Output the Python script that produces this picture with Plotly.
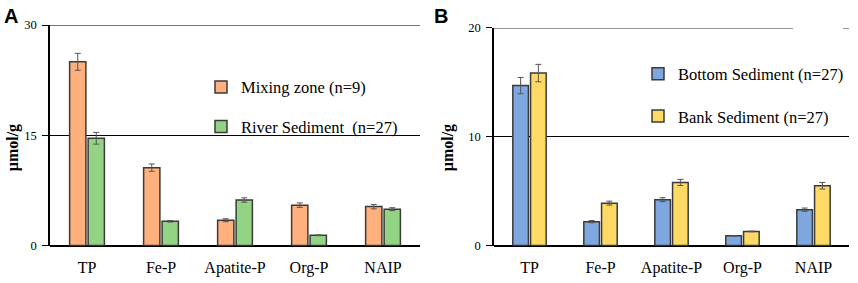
import plotly.graph_objects as go

categories = ["TP", "Fe-P", "Apatite-P", "Org-P", "NAIP"]

mixing = [25.0, 10.6, 3.45, 5.5, 5.3]
mixing_err = [1.15, 0.5, 0.2, 0.3, 0.3]
river = [14.6, 3.3, 6.2, 1.4, 4.95]
river_err = [0.8, 0.1, 0.3, 0.05, 0.2]

bottom = [14.7, 2.2, 4.22, 0.9, 3.3]
bottom_err = [0.75, 0.1, 0.18, 0.03, 0.15]
bank = [15.85, 3.9, 5.8, 1.3, 5.5]
bank_err = [0.8, 0.18, 0.28, 0.03, 0.3]

W, H = 858, 283
SERIF = "Liberation Serif, Times New Roman, serif"
OUT = "#3a3a3a"

def bar(name, x, y, err, color, xa, ya, legend, group):
    return go.Bar(
        name=name, x=x, y=y, xaxis=xa, yaxis=ya, legend=legend, legendgroup=group,
        marker=dict(color=color, line=dict(color=OUT, width=1.5)),
        error_y=dict(type="data", array=err, visible=True, color="#555555", thickness=1, width=3),
    )

fig = go.Figure()
fig.add_trace(bar("Mixing zone (n=9)", categories, mixing, mixing_err, "#FFB07C", "x", "y", "legend", "a1"))
fig.add_trace(bar("River Sediment  (n=27)", categories, river, river_err, "#93D384", "x", "y", "legend", "a2"))
fig.add_trace(bar("Bottom Sediment (n=27)", categories, bottom, bottom_err, "#7EA7E0", "x2", "y2", "legend2", "b1"))
fig.add_trace(bar("Bank Sediment (n=27)", categories, bank, bank_err, "#FFD966", "x2", "y2", "legend2", "b2"))

xcommon = dict(showgrid=False, zeroline=False, showline=False, ticks="", ticklabelstandoff=10,
               tickfont=dict(family=SERIF, size=16, color="black"), range=[-0.5, 4.5])
ycommon = dict(showgrid=True, gridcolor="black", gridwidth=1, zeroline=True, zerolinecolor="black",
               zerolinewidth=2, showline=True, linecolor="black", linewidth=1.5,
               ticks="outside", ticklen=6, tickcolor="black", tickwidth=1, ticklabelstandoff=3,
               tickfont=dict(family=SERIF, size=12.5, color="black"))

fig.update_layout(
    width=W, height=H, margin=dict(l=0, r=0, t=0, b=0),
    paper_bgcolor="white", plot_bgcolor="white",
    barmode="group", bargap=0.5, bargroupgap=0.12,
    xaxis=dict(domain=[50 / W, 420 / W], anchor="y", **xcommon),
    yaxis=dict(domain=[32 / H, 264 / H], anchor="x", range=[0, 30], tickvals=[0, 15, 30], **ycommon),
    xaxis2=dict(domain=[494 / W, 849 / W], anchor="y2", **xcommon),
    yaxis2=dict(domain=[32 / H, 261 / H], anchor="x2", range=[0, 20], tickvals=[0, 10, 20], **ycommon),
    legend=dict(x=201 / W, y=1 - 66 / H, xanchor="left", yanchor="top", bgcolor="rgba(0,0,0,0)",
                font=dict(family=SERIF, size=16.5, color="black"), tracegroupgap=15, itemwidth=30),
    legend2=dict(x=638 / W, y=1 - 52 / H, xanchor="left", yanchor="top", bgcolor="rgba(0,0,0,0)",
                 font=dict(family=SERIF, size=16.5, color="black"), tracegroupgap=18, itemwidth=30),
    showlegend=True,
)

fig.add_annotation(text="<b>A</b>", x=2 / W, y=1 + 4 / H, xref="paper", yref="paper",
                   xanchor="left", yanchor="top", showarrow=False,
                   font=dict(family="Liberation Sans, Arial, sans-serif", size=20, color="black"))
fig.add_annotation(text="<b>B</b>", x=432 / W, y=1 + 4 / H, xref="paper", yref="paper",
                   xanchor="left", yanchor="top", showarrow=False,
                   font=dict(family="Liberation Sans, Arial, sans-serif", size=20, color="black"))
for xp in (12.5, 447.5):
    fig.add_annotation(text="<b>μmol/g</b>", x=xp / W, y=1 - 148 / H, xref="paper", yref="paper",
                       xanchor="center", yanchor="middle", textangle=-90, showarrow=False,
                       font=dict(family=SERIF, size=16, color="black"))

# top reference lines (panel B's is interrupted, as in the original artwork)
fig.add_shape(type="line", xref="x domain", yref="y", x0=0, x1=1, y0=30, y1=30,
              line=dict(color="black", width=1))
fig.add_shape(type="line", xref="x2 domain", yref="y2", x0=0, x1=(793 - 494) / 355, y0=20, y1=20,
              line=dict(color="black", width=1))
fig.add_shape(type="line", xref="x2 domain", yref="y2", x0=(843 - 494) / 355, x1=1, y0=20, y1=20,
              line=dict(color="black", width=1))

fig.write_html("out.html", config={"displayModeBar": False},
               post_script="document.body.style.margin='0px';")
